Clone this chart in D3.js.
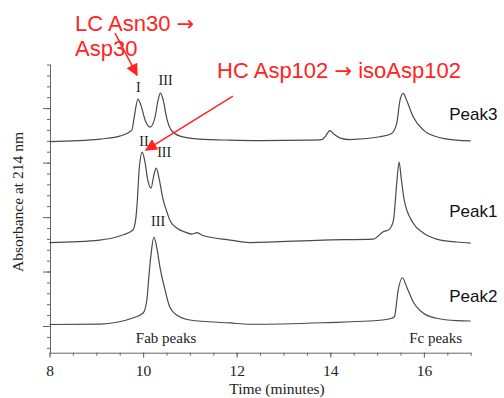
<!DOCTYPE html>
<html>
<head>
<meta charset="utf-8">
<script src="https://cdn.jsdelivr.net/npm/d3@7"></script>
<style>
  body { margin: 0; background: #fff; }
</style>
</head>
<body>
<div id="chart"></div>
<script>
// chromatogram traces, [time (min), absorbance (a.u.)]
const traceNames = ["Peak3", "Peak1", "Peak2"];

const peak3 = [
  [8.0, 16.93], [9.08, 17.16], [9.5, 17.43], [9.76, 17.98], [9.81, 19.17],
  [9.89, 20.83], [9.96, 20.18], [10.05, 18.81], [10.15, 18.26], [10.25, 19.08],
  [10.32, 20.73], [10.37, 21.38], [10.43, 20.73], [10.5, 19.17], [10.6, 17.98],
  [10.79, 17.43], [11.2, 17.16], [11.86, 17.06], [12.5, 17.02], [13.5, 17.06],
  [13.82, 17.11], [13.9, 17.43], [13.99, 17.94], [14.08, 17.61], [14.21, 17.25],
  [14.42, 17.11], [15.06, 17.37], [15.31, 17.68], [15.42, 18.62], [15.49, 20.73],
  [15.56, 21.35], [15.63, 20.73], [15.77, 19.2], [15.99, 17.98], [16.27, 17.37],
  [16.7, 17.06], [17.0, 17.0]
];

const peak1 = [
  [8.0, 7.66], [9.07, 7.89], [9.5, 8.26], [9.78, 8.81], [9.84, 9.72],
  [9.87, 11.1], [9.92, 14.59], [9.98, 15.96], [10.04, 15.05], [10.1, 13.39],
  [10.17, 12.66], [10.23, 13.85], [10.28, 14.5], [10.34, 13.58], [10.42, 11.74],
  [10.51, 10.46], [10.58, 9.63], [10.72, 8.99], [10.9, 8.62], [11.05, 8.44],
  [11.15, 8.58], [11.25, 8.35], [11.86, 7.89], [12.28, 7.66], [13.84, 7.89],
  [14.92, 7.98], [15.13, 8.65], [15.26, 8.87], [15.35, 9.72], [15.42, 13.12],
  [15.47, 15.05], [15.52, 13.39], [15.58, 11.56], [15.77, 9.45], [15.99, 8.53],
  [16.27, 7.98], [16.7, 7.71], [17.0, 7.61]
];

const peak2 = [
  [8.0, 0.14], [9.08, 0.18], [9.78, 0.73], [10.0, 1.19], [10.08, 2.39],
  [10.13, 4.86], [10.18, 6.97], [10.23, 8.17], [10.29, 7.25], [10.36, 5.41],
  [10.47, 3.3], [10.57, 1.74], [10.72, 1.01], [11.0, 0.55], [11.86, 0.28],
  [12.28, 0.16], [13.84, 0.3], [15.12, 0.55], [15.31, 0.71], [15.37, 0.85],
  [15.45, 3.3], [15.54, 4.43], [15.63, 3.61], [15.77, 2.23], [15.99, 1.17],
  [16.27, 0.71], [16.7, 0.49], [17.0, 0.46]
];

const traces = [peak3, peak1, peak2];

// trace name labels [time, absorbance]
const namePos = [[16.54, 18.9], [16.54, 10.0], [16.54, 2.2]];

// roman numeral peak labels [text, time, absorbance]
const romanLabels = [
  ["I", 9.9, 21.5], ["III", 10.48, 22.1],
  ["II", 10.02, 16.5], ["III", 10.45, 15.5],
  ["III", 10.32, 9.2]
];

// region labels under the traces
const regionLabels = [["Fab peaks", 10.49, -1.55], ["Fc peaks", 16.25, -1.55]];

// red annotations: text lines and arrows [time, absorbance]
const noteLines = [
  ["LC Asn30 \u2192", 8.545, 27.06],
  ["Asp30", 8.545, 24.77],
  ["HC Asp102 \u2192 isoAsp102", 11.58, 22.75]
];
const noteArrows = [
  [[9.40, 26.88], [9.87, 23.03]],
  [[11.92, 21.1], [10.06, 16.15]]
];

const xTicks = [8, 10, 12, 14, 16];
const xMinor = d3.range(8, 17.01, 0.5);
const yMajor = [0, 5, 10, 15, 20];
const yMinor = d3.range(-2, 25);

const width = 504, height = 398;
const ink = "#4a4a4a";
const red = "#ff2323";

const svg = d3.select("#chart").append("svg")
  .attr("width", width)
  .attr("height", height);

const x = d3.scaleLinear().domain([8, 17]).range([49.5, 470.7]);
const y = d3.scaleLinear().domain([-2.45, 24.05]).range([352.7, 64]);

// x axis
const gx = svg.append("g").attr("transform", `translate(0, ${y(-2.45)})`);
gx.call(d3.axisBottom(x).tickValues(xMinor).tickSize(3).tickSizeOuter(0).tickFormat(""));
gx.append("g").call(d3.axisBottom(x).tickValues(xTicks).tickSize(5).tickPadding(7).tickFormat(d3.format("d")))
  .call(g => g.select(".domain").remove());
gx.selectAll("path, line").attr("stroke", "#666");
gx.selectAll("text")
  .attr("font-family", "Liberation Serif")
  .attr("font-size", 15.5)
  .attr("fill", "#222");

// y axis
const gy = svg.append("g").attr("transform", `translate(${x(8) + 0.5}, 0)`);
gy.call(d3.axisLeft(y).tickValues(yMinor).tickSize(3).tickSizeOuter(0).tickFormat(""));
gy.append("g").call(d3.axisLeft(y).tickValues(yMajor).tickSize(7).tickFormat(""))
  .call(g => g.select(".domain").remove());
gy.selectAll("path, line").attr("stroke", "#666");

// axis titles
svg.append("text")
  .attr("x", 277)
  .attr("y", 394)
  .attr("text-anchor", "middle")
  .attr("font-family", "Liberation Serif")
  .attr("font-size", 15.5)
  .attr("fill", "#222")
  .text("Time (minutes)");

svg.append("text")
  .attr("transform", "translate(23, 202) rotate(-90)")
  .attr("text-anchor", "middle")
  .attr("font-family", "Liberation Serif")
  .attr("font-size", 15.5)
  .attr("fill", "#222")
  .text("Absorbance at 214 nm");

// traces
const line = d3.line()
  .x(d => x(d[0]))
  .y(d => y(d[1]))
  .curve(d3.curveMonotoneX);

svg.selectAll(".trace")
  .data(traces)
  .enter().append("path")
  .attr("class", "trace")
  .attr("d", line)
  .attr("fill", "none")
  .attr("stroke", ink)
  .attr("stroke-width", 1.2);

svg.selectAll(".trace-name")
  .data(traceNames)
  .enter().append("text")
  .attr("class", "trace-name")
  .attr("x", (d, i) => x(namePos[i][0]))
  .attr("y", (d, i) => y(namePos[i][1]))
  .attr("font-family", "Liberation Sans")
  .attr("font-size", 17)
  .attr("fill", "#111")
  .text(d => d);

svg.selectAll(".roman")
  .data(romanLabels)
  .enter().append("text")
  .attr("class", "roman")
  .attr("x", d => x(d[1]))
  .attr("y", d => y(d[2]))
  .attr("text-anchor", "middle")
  .attr("font-family", "Liberation Serif")
  .attr("font-size", 14)
  .attr("fill", "#222")
  .text(d => d[0]);

svg.selectAll(".region")
  .data(regionLabels)
  .enter().append("text")
  .attr("class", "region")
  .attr("x", d => x(d[1]))
  .attr("y", d => y(d[2]))
  .attr("text-anchor", "middle")
  .attr("font-family", "Liberation Serif")
  .attr("font-size", 15)
  .attr("fill", "#222")
  .text(d => d[0]);

// red annotations, the arrow glyph drawn in a font where it is long
const notes = svg.selectAll(".note")
  .data(noteLines)
  .enter().append("text")
  .attr("class", "note")
  .attr("x", d => x(d[1]))
  .attr("y", d => y(d[2]))
  .attr("font-family", "Liberation Sans")
  .attr("font-size", 22)
  .attr("fill", red);

notes.each(function(d) {
  const parts = d[0].split("\u2192");
  const t = d3.select(this);
  parts.forEach((p, i) => {
    if (i > 0) {
      t.append("tspan").attr("font-family", "DejaVu Sans").attr("font-size", 21).text("\u2192");
    }
    t.append("tspan").text(p);
  });
});

svg.append("defs").append("marker")
  .attr("id", "head")
  .attr("viewBox", "0 0 10 10")
  .attr("refX", 9)
  .attr("refY", 5)
  .attr("markerUnits", "userSpaceOnUse")
  .attr("markerWidth", 14)
  .attr("markerHeight", 12)
  .attr("orient", "auto")
  .append("path")
  .attr("d", "M0,0 L10,5 L0,10 Z")
  .attr("fill", red);

svg.selectAll(".arrow")
  .data(noteArrows)
  .enter().append("line")
  .attr("class", "arrow")
  .attr("x1", d => x(d[0][0]))
  .attr("y1", d => y(d[0][1]))
  .attr("x2", d => x(d[1][0]))
  .attr("y2", d => y(d[1][1]))
  .attr("stroke", red)
  .attr("stroke-width", 1.5)
  .attr("marker-end", "url(#head)");
</script>
</body>
</html>
